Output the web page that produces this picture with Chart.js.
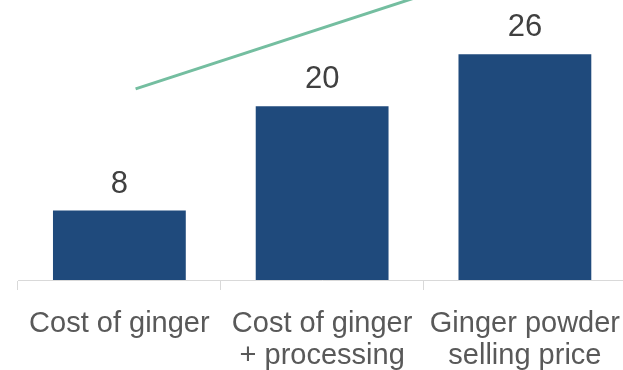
<!DOCTYPE html>
<html>
<head>
<meta charset="utf-8">
<script src="https://cdn.jsdelivr.net/npm/chart.js@4/dist/chart.umd.min.js"></script>
<style>
html,body{margin:0;padding:0;background:#fff;overflow:hidden;}
#wrap{width:623px;height:370px;overflow:hidden;position:relative;}
#box{width:638px;height:370px;position:absolute;left:0;top:0;}
</style>
</head>
<body>
<div id="wrap"><div id="box"><canvas id="c"></canvas></div></div>
<script>
const categories = [["Cost of ginger"], ["Cost of ginger", "+ processing"], ["Ginger powder", "selling price"]];
const values = [8, 20, 26];
const trendX = [0.08, 1.5];
const trendY = [22, 32.8];
const yMax = 32;

const FONT = "'Liberation Sans', Arial, sans-serif";

const valueLabels = {
  id: 'valueLabels',
  afterDatasetsDraw(chart) {
    const ctx = chart.ctx;
    const meta = chart.getDatasetMeta(0);
    ctx.save();
    ctx.font = "31px " + FONT;
    ctx.fillStyle = '#404040';
    ctx.textAlign = 'center';
    ctx.textBaseline = 'alphabetic';
    meta.data.forEach((bar, i) => {
      ctx.fillText(String(values[i]), bar.x, bar.y - 18);
    });
    ctx.restore();
  }
};

new Chart(document.getElementById('c'), {
  type: 'bar',
  data: {
    labels: categories,
    datasets: [
      {
        type: 'bar',
        data: values,
        backgroundColor: '#1f4a7c',
        barPercentage: 0.655,
        categoryPercentage: 1,
        grouped: false,
        xAxisID: 'x',
        yAxisID: 'y',
        order: 2
      },
      {
        type: 'line',
        data: trendX.map((x, i) => ({x: x, y: trendY[i]})),
        borderColor: '#74bea0',
        borderWidth: 3,
        pointRadius: 0,
        fill: false,
        xAxisID: 'x2',
        yAxisID: 'y',
        clip: false,
        order: 1
      }
    ]
  },
  plugins: [valueLabels],
  options: {
    responsive: true,
    maintainAspectRatio: false,
    animation: false,
    layout: {padding: {top: 2, left: 18, right: 0, bottom: 0}},
    plugins: {legend: {display: false}, tooltip: {enabled: false}},
    scales: {
      x: {
        type: 'category',
        offset: true,
        grid: {display: true, drawOnChartArea: false, drawTicks: true, tickLength: 10, color: '#d9d9d9', offset: true},
        border: {display: true, color: '#d9d9d9', width: 1},
        ticks: {font: {family: FONT, size: 29, lineHeight: 1.1}, color: '#595959', padding: 18, maxRotation: 0, autoSkip: false},
        afterFit(s) { s.height = 90; }
      },
      x2: {
        type: 'linear',
        display: false,
        offset: false,
        grid: {offset: false},
        min: -0.5,
        max: 2.5
      },
      y: {
        display: false,
        min: 0,
        max: yMax
      }
    }
  }
});
</script>
</body>
</html>
